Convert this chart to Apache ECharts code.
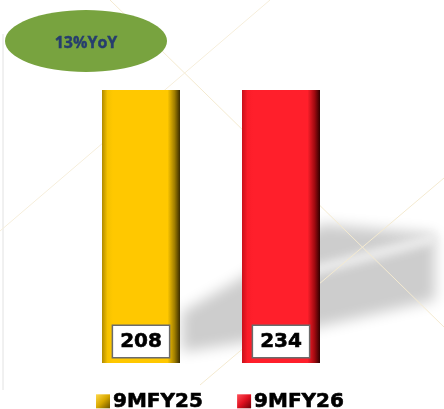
<!DOCTYPE html>
<html>
<head>
<meta charset="utf-8">
<script src="https://cdn.jsdelivr.net/npm/echarts@6/dist/echarts.min.js"></script>
<style>
  html, body { margin: 0; padding: 0; background: #fff; }
  #chart { width: 444px; height: 409px; }
</style>
</head>
<body>
<div id="chart"></div>
<script>
// data
const categories = ["9MFY25", "9MFY26"];
const values = [208, 234];
const yoyText = "13%YoY";

const yellowFill = new echarts.graphic.LinearGradient(0, 0, 1, 0, [
  { offset: 0, color: "#b08a00" },
  { offset: 0.07, color: "#f5c200" },
  { offset: 0.14, color: "#ffc800" },
  { offset: 0.84, color: "#ffc800" },
  { offset: 0.93, color: "#a07e00" },
  { offset: 1, color: "#3a2d00" }
]);
const redFill = new echarts.graphic.LinearGradient(0, 0, 1, 0, [
  { offset: 0, color: "#c8101a" },
  { offset: 0.07, color: "#fa1c28" },
  { offset: 0.14, color: "#ff1f2b" },
  { offset: 0.84, color: "#ff1f2b" },
  { offset: 0.93, color: "#a00a10" },
  { offset: 1, color: "#300000" }
]);

const labelStyle = {
  show: true,
  position: "insideBottom",
  distance: 6,
  formatter: "{c}",
  fontFamily: "DejaVu Sans",
  fontWeight: "bold",
  fontSize: 20,
  color: "#000",
  textBorderColor: "#000",
  textBorderWidth: 0.6,
  backgroundColor: "#fff",
  borderColor: "#6b6b6b",
  borderWidth: 1.5,
  padding: [6, 7, 5, 7]
};

// blurred shapes are drawn off-canvas and only their shadow lands on the page
const OFF = 1000;
function shifted(points) {
  return points.map(p => [p[0] - OFF, p[1]]);
}

const chart = echarts.init(document.getElementById("chart"));

const option = {
  animation: false,
  backgroundColor: "#fff",
  grid: { left: 71, right: 93, top: 90, bottom: 46 },
  xAxis: {
    type: "category",
    data: categories,
    show: false
  },
  yAxis: [
    { type: "value", min: 0, max: "dataMax", show: false },
    { type: "value", min: 0, max: "dataMax", show: false }
  ],
  legend: {
    left: 91,
    top: 386,
    itemWidth: 14,
    itemHeight: 14,
    itemGap: 34,
    icon: "rect",
    textStyle: {
      fontFamily: "DejaVu Sans",
      fontWeight: "bold",
      fontSize: 20,
      color: "#000",
      textBorderColor: "#000",
      textBorderWidth: 0.6,
      padding: [0, 0, 0, -2]
    },
    data: [
      {
        name: categories[0],
        itemStyle: {
          color: new echarts.graphic.LinearGradient(0, 0, 1, 1, [
            { offset: 0, color: "#ffd84a" },
            { offset: 0.5, color: "#d8a800" },
            { offset: 1, color: "#6a5200" }
          ])
        }
      },
      {
        name: categories[1],
        itemStyle: {
          color: new echarts.graphic.LinearGradient(0, 0, 1, 1, [
            { offset: 0, color: "#ff5058" },
            { offset: 0.5, color: "#e01020" },
            { offset: 1, color: "#6a0008" }
          ])
        }
      }
    ]
  },
  graphic: [
    // faint frame line on the left
    { type: "line", z: -10, shape: { x1: 3, y1: 34, x2: 3, y2: 390 }, style: { stroke: "#e2e2e2", lineWidth: 1 } },
    // soft grey diagonal shadow band
    {
      type: "polygon",
      z: -10,
      shape: {
        points: shifted([[182, 312], [240, 279], [322, 224], [435, 234], [435, 300], [322, 326], [240, 343], [182, 352]])
      },
      style: {
        fill: "#d0d0d0",
        shadowColor: "rgba(205,205,205,1)",
        shadowBlur: 14,
        shadowOffsetX: OFF
      }
    },
    {
      type: "polyline",
      z: -9,
      shape: { points: shifted([[300, 274], [435, 238]]) },
      style: {
        stroke: "#fff",
        lineWidth: 10,
        shadowColor: "rgba(240,240,240,1)",
        shadowBlur: 10,
        shadowOffsetX: OFF
      }
    },
    // faint gold lines
    { type: "line", z: -8, shape: { x1: 110, y1: 0, x2: 444, y2: 327 }, style: { stroke: "#f4ead0", lineWidth: 1 } },
    { type: "line", z: -8, shape: { x1: 270, y1: 0, x2: 0, y2: 231 }, style: { stroke: "#f6eedb", lineWidth: 1 } },
    { type: "line", z: -8, shape: { x1: 444, y1: 178, x2: 200, y2: 385 }, style: { stroke: "#f4ead0", lineWidth: 1 } },
    // YoY ellipse
    {
      type: "ellipse",
      z: 10,
      shape: { cx: 86, cy: 41, rx: 81, ry: 31 },
      style: { fill: "#78a33f" }
    },
    {
      type: "text",
      z: 11,
      x: 86,
      y: 43,
      style: {
        text: yoyText,
        align: "center",
        verticalAlign: "middle",
        fontFamily: "Open Sans",
        fontWeight: "bold",
        fontSize: 16,
        fill: "#263d6e",
        stroke: "#263d6e",
        lineWidth: 0.4
      }
    }
  ],
  series: [
    {
      name: categories[0],
      type: "bar",
      yAxisIndex: 0,
      barWidth: 78,
      barGap: "-100%",
      data: [values[0], "-"],
      itemStyle: { color: yellowFill },
      label: labelStyle
    },
    {
      name: categories[1],
      type: "bar",
      yAxisIndex: 1,
      barWidth: 78,
      barGap: "-100%",
      data: ["-", values[1]],
      itemStyle: { color: redFill },
      label: labelStyle
    }
  ]
};

chart.setOption(option);
</script>
</body>
</html>
